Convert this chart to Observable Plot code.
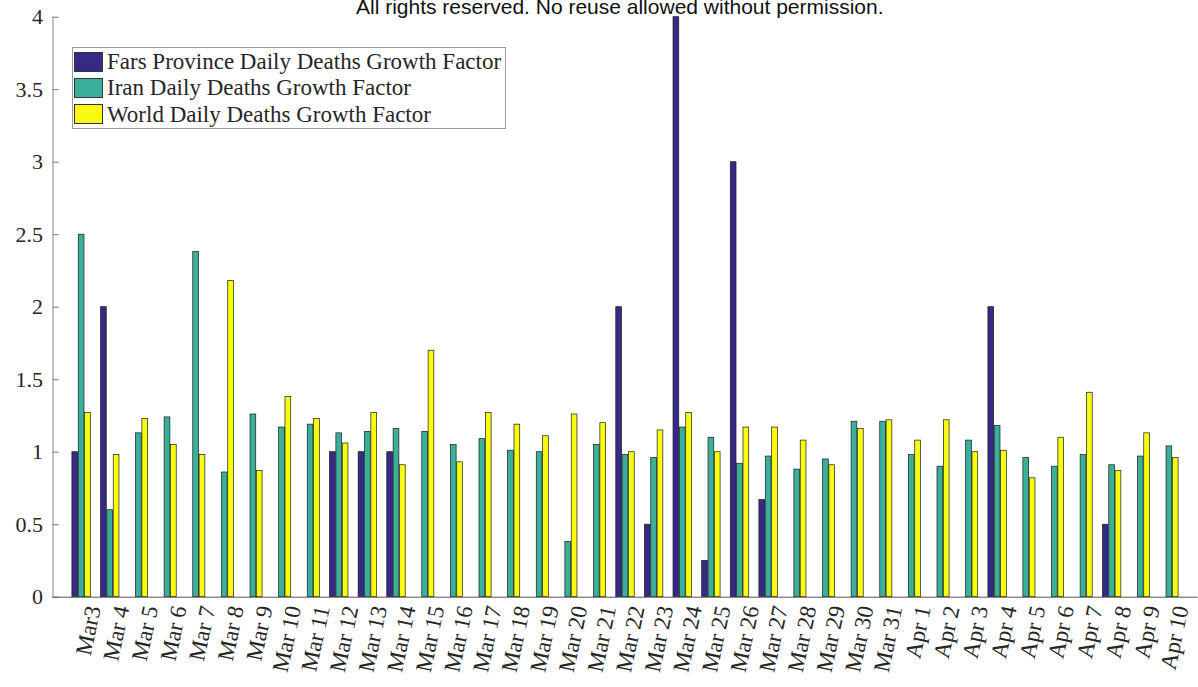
<!DOCTYPE html>
<html>
<head>
<meta charset="utf-8">
<script src="https://cdn.jsdelivr.net/npm/d3@7"></script>
<script src="https://cdn.jsdelivr.net/npm/@observablehq/plot@0.6"></script>
<style>
  body { margin: 0; background: #fff; }
  #wrap { position: relative; width: 1198px; height: 687px; overflow: hidden; background: #fff; }
  #chart { position: absolute; left: 0; top: 0; }
  #chart svg text { font-family: "Liberation Serif", serif; }
  #legend { position: absolute; left: 72px; top: 47px; width: 432px; height: 80px; border: 1px solid #9a9a9a; background: #fff; box-sizing: content-box; }
  .row { position: absolute; left: 1px; height: 21px; display: flex; align-items: center; }
  .sw { width: 29px; height: 20px; border: 1px solid #333; box-sizing: border-box; margin-right: 4px; }
  .lbl { font-family: "Liberation Serif", serif; font-size: 23px; color: #262626; white-space: nowrap; line-height: 21px; }
  #wm { position: absolute; left: 356px; top: -4px; font-family: "Liberation Sans", Arial, sans-serif; font-size: 21px; line-height: 21px; color: #111; white-space: nowrap; }
</style>
</head>
<body>
<div id="wrap">
  <div id="chart"></div>
  <div id="legend"></div>
  <div id="wm">All rights reserved. No reuse allowed without permission.</div>
</div>
<script>
const dates = ["Mar3","Mar 4","Mar 5","Mar 6","Mar 7","Mar 8","Mar 9","Mar 10","Mar 11","Mar 12","Mar 13","Mar 14","Mar 15","Mar 16","Mar 17","Mar 18","Mar 19","Mar 20","Mar 21","Mar 22","Mar 23","Mar 24","Mar 25","Mar 26","Mar 27","Mar 28","Mar 29","Mar 30","Mar 31","Apr 1","Apr 2","Apr 3","Apr 4","Apr 5","Apr 6","Apr 7","Apr 8","Apr 9","Apr 10"];
const fars  = [1,2,0,0,0,0,0,0,0,1,1,1,0,0,0,0,0,0,0,2,0.5,4,0.25,3,0.67,0,0,0,0,0,0,0,2,0,0,0,0.5,0,0];
const iran  = [2.5,0.6,1.13,1.24,2.38,0.86,1.26,1.17,1.19,1.13,1.14,1.16,1.14,1.05,1.09,1.01,1.0,0.38,1.05,0.98,0.96,1.17,1.1,0.92,0.97,0.88,0.95,1.21,1.21,0.98,0.9,1.08,1.18,0.96,0.9,0.98,0.91,0.97,1.04];
const world = [1.27,0.98,1.23,1.05,0.98,2.18,0.87,1.38,1.23,1.06,1.27,0.91,1.7,0.93,1.27,1.19,1.11,1.26,1.2,1.0,1.15,1.27,1.0,1.17,1.17,1.08,0.91,1.16,1.22,1.08,1.22,1.0,1.01,0.82,1.1,1.41,0.87,1.13,0.96];
const seriesNames = ["Fars Province Daily Deaths Growth Factor","Iran Daily Deaths Growth Factor","World Daily Deaths Growth Factor"];
const seriesColors = ["#352a87","#3ab09a","#f9fb0e"];
const yTicks = [0,0.5,1,1.5,2,2.5,3,3.5,4];

const seriesValues = [fars, iran, world];
const rows = dates.flatMap((d, i) => seriesValues.map((vals, k) => ({pos: i + 1, k, series: seriesNames[k], value: vals[i]})));
const step = 0.222, bw = 0.2;

const chart = Plot.plot({
  width: 1198,
  height: 687,
  marginLeft: 52.5,
  marginRight: 0.5,
  marginTop: 16.7,
  marginBottom: 90.3,
  style: {fontFamily: "'Liberation Serif', serif", fontSize: "22px", color: "#262626", background: "transparent"},
  x: {domain: [0, 40]},
  y: {domain: [0, 4]},
  color: {domain: seriesNames, range: seriesColors},
  marks: [
    Plot.rectY(rows, {
      x1: d => d.pos + (d.k - 1) * step - bw / 2,
      x2: d => d.pos + (d.k - 1) * step + bw / 2,
      y1: 0, y2: "value",
      fill: "series", stroke: "#1b1b1b", strokeWidth: 0.7
    }),
    Plot.ruleY(yTicks, {x1: 0, x2: 0.22, stroke: "#777"}),
    Plot.ruleX([0], {stroke: "#888"}),
    Plot.ruleY([0], {stroke: "#555"}),
    Plot.axisY({ticks: yTicks, tickFormat: d => String(d), tickSize: 0, tickPadding: 10, fontSize: 22, fontFamily: "Liberation Serif", label: null}),
    Plot.axisX({ticks: d3.range(1, 40), tickFormat: i => dates[i - 1], tickRotate: -78, tickSize: 0, tickPadding: 9, dx: 12, fontSize: 23, fontFamily: "Liberation Serif", label: null})
  ]
});
document.getElementById("chart").appendChild(chart);

const legend = document.getElementById("legend");
seriesNames.forEach((name, k) => {
  const row = document.createElement("div");
  row.className = "row";
  row.style.top = (3 + k * 26.3) + "px";
  const sw = document.createElement("div");
  sw.className = "sw";
  sw.style.background = seriesColors[k];
  const lbl = document.createElement("div");
  lbl.className = "lbl";
  lbl.textContent = name;
  row.appendChild(sw);
  row.appendChild(lbl);
  legend.appendChild(row);
});
</script>
</body>
</html>
